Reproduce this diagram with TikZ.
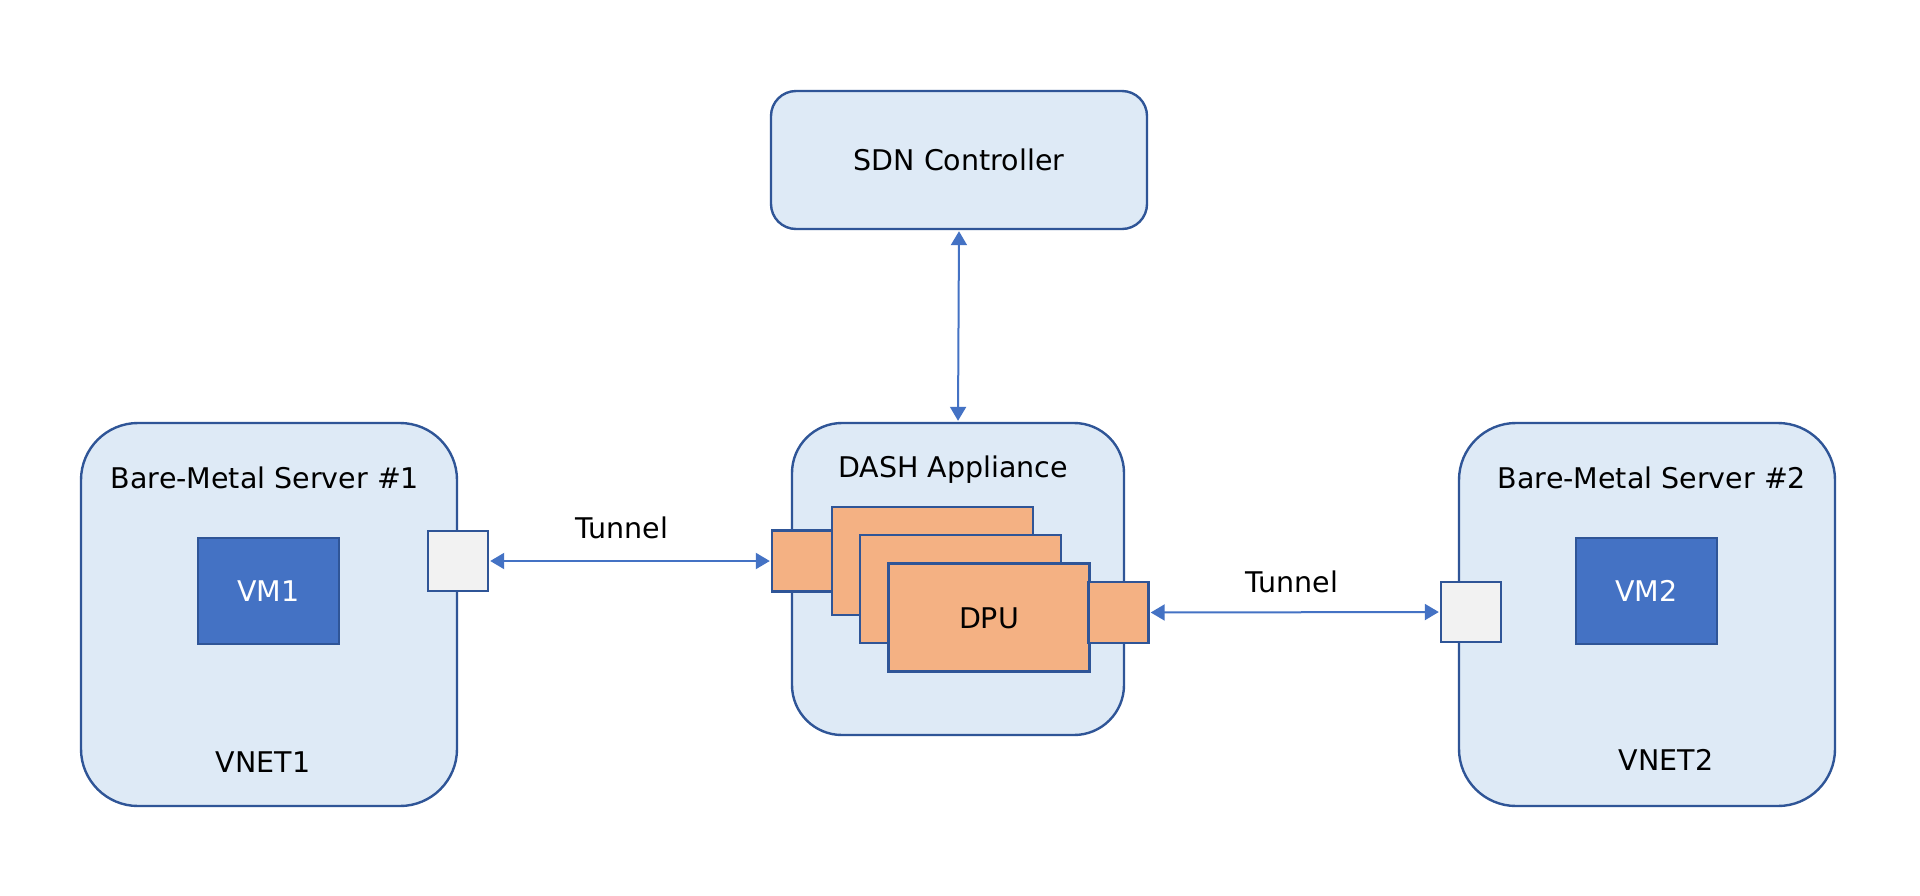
\documentclass[tikz,border=0pt]{standalone}
\usepackage{fontspec}
\setmainfont{DejaVu Sans}
\usetikzlibrary{arrows.meta}
\definecolor{boxfill}{HTML}{DEEAF6}
\definecolor{boxline}{HTML}{2F5597}
\definecolor{vmfill}{HTML}{4472C4}
\definecolor{dpufill}{HTML}{F4B183}
\definecolor{portfill}{HTML}{F2F2F2}
\definecolor{arrowcol}{HTML}{4472C4}
\tikzset{
  big/.style={draw=boxline, fill=boxfill, line width=2.4pt},
  vmbox/.style={draw=boxline, fill=vmfill, line width=2pt, minimum width=141pt, minimum height=106pt, text=white, font=\fontsize{28.5}{34}\selectfont},
  dpubox/.style={draw=boxline, fill=dpufill, line width=2.4pt, minimum width=201pt, minimum height=108pt},
  dport/.style={draw=boxline, fill=dpufill, line width=2.4pt, minimum width=60pt, minimum height=61pt},
  sport/.style={draw=boxline, fill=portfill, line width=2.4pt, minimum width=60pt, minimum height=60pt},
  lbl/.style={font=\fontsize{28.5}{34}\selectfont, text=black, inner sep=0pt},
  link/.style={draw=arrowcol, line width=2pt, {Triangle[length=14pt,width=16pt]}-{Triangle[length=14pt,width=16pt]}},
}
\begin{document}
\begin{tikzpicture}[x=1pt,y=-1pt]
\useasboundingbox[fill=white] (0,0) rectangle (1920,895);
% SDN controller
\node[big, rounded corners=25pt, minimum width=376pt, minimum height=138pt] (sdn) at (959,160) {};
\node[lbl] (sdnt) at (959,160) {SDN Controller};
% DASH appliance
\node[big, rounded corners=50pt, minimum width=332pt, minimum height=312pt] (dash) at (958,579) {};
\node[lbl] (dasht) at (953,470) {DASH Appliance};
\node[dpubox] (dpu1) at (932.5,561) {};
\node[dpubox] (dpu2) at (960.5,589) {};
\node[dpubox] (dpu3) at (989,617.5) {};
\node[lbl] (dput) at (989,618) {DPU};
\node[dport] (lport) at (802,561) {};
\node[dport] (rport) at (1118.5,612.5) {};
% Server 1
\node[big, rounded corners=57pt, minimum width=376pt, minimum height=383pt] (srv1) at (269,614.5) {};
\node[lbl] (srv1t) at (265,478) {Bare-Metal Server \#1};
\node[vmbox] (vm1) at (268.5,591) {VM1};
\node[lbl] (vnet1) at (263,762) {VNET1};
\node[sport] (port1) at (458,561) {};
% Server 2
\node[big, rounded corners=57pt, minimum width=376pt, minimum height=383pt] (srv2) at (1647,614.5) {};
\node[lbl] (srv2t) at (1652,478) {Bare-Metal Server \#2};
\node[vmbox] (vm2) at (1646.5,591) {VM2};
\node[lbl] (vnet2) at (1666,760) {VNET2};
\node[sport] (port2) at (1471,612) {};
% connectors
\draw[link] ([yshift=-1pt]sdn.south) -- ([yshift=1pt]dash.north);
\draw[link] ([xshift=1pt]port1.east) -- ([xshift=-1pt]lport.west);
\draw[link] ([xshift=1pt]rport.east) -- ([xshift=-1pt]port2.west);
\node[lbl] (tun1) at (622,528) {Tunnel};
\node[lbl] (tun2) at (1292,582) {Tunnel};
\end{tikzpicture}
\end{document}
